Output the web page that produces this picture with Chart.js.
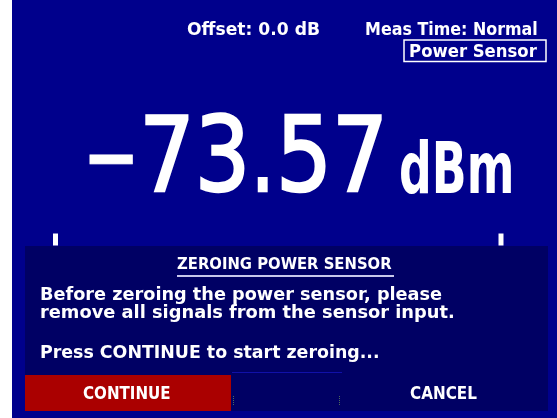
<!DOCTYPE html>
<html><head><meta charset="utf-8">
<script src="https://cdn.jsdelivr.net/npm/chart.js@4"></script>
<style>html,body{margin:0;padding:0;background:#fff;overflow:hidden}canvas{display:block}</style>
</head><body><canvas id="c" width="557" height="418"></canvas>
<script>
// ---- data ----
const headerTexts = ['Offset: 0.0 dB', 'Meas Time: Normal'];
const modeLabel = 'Power Sensor';
const reading = -73.57;
const unit = 'dBm';
const barLimits = [0, 100];           // bar-graph end markers (percent of range)
const dialogTitle = 'ZEROING POWER SENSOR';
const dialogLines = ['Before zeroing the power sensor, please',
                     'remove all signals from the sensor input.',
                     'Press CONTINUE to start zeroing...'];
const buttonLabels = ['CONTINUE', 'CANCEL'];

// ---- styles ----
const BG = '#00008C', DLG = '#000064', RED = '#AA0000', FG = '#FFFFFF';
const SMALL = 'bold {s}px "DejaVu Sans"';
const BIG = '{s}px "DejaVu Sans"';
const UNIT = 'bold {s}px "DejaVu Sans"';

function fitText(ctx, text, left, baseline, width, capH, font, extra) {
  ctx.font = font.replace('{s}', 100);
  const capR = ctx.measureText('H').actualBoundingBoxAscent / 100;
  const size = capH / capR;
  ctx.font = font.replace('{s}', size.toFixed(2));
  ctx.textAlign = 'left'; ctx.textBaseline = 'alphabetic';
  const m = ctx.measureText(text);
  const inkW = m.actualBoundingBoxLeft + m.actualBoundingBoxRight;
  const sx = width / inkW;
  ctx.save();
  ctx.translate(left, baseline);
  ctx.scale(sx, 1);
  ctx.fillText(text, m.actualBoundingBoxLeft, 0);
  if (extra) {
    ctx.strokeStyle = ctx.fillStyle; ctx.lineWidth = extra; ctx.lineJoin = 'miter';
    ctx.strokeText(text, m.actualBoundingBoxLeft, 0);
  }
  ctx.restore();
}

const screenPlugin = {
  id: 'screen',
  beforeDraw(chart) {
    const ctx = chart.ctx;
    ctx.save();
    ctx.fillStyle = '#FFFFFF'; ctx.fillRect(0, 0, 557, 418);
    ctx.fillStyle = BG; ctx.fillRect(12, 0, 545, 418);
    ctx.restore();
  },
  afterDraw(chart) {
    const ctx = chart.ctx;
    ctx.save();
    ctx.fillStyle = FG;
    // header
    fitText(ctx, headerTexts[0], 187, 35, 132, 12.5, SMALL);
    fitText(ctx, headerTexts[1], 366, 35, 171, 12.5, SMALL);
    ctx.strokeStyle = FG; ctx.lineWidth = 1.5;
    ctx.strokeRect(404, 40, 142, 21.5);
    fitText(ctx, modeLabel, 410, 57, 127, 13, SMALL);

    // big reading
    const s = reading.toFixed(2);
    const neg = s[0] === '-';
    const body = neg ? s.slice(1) : s;
    const [ip, fp] = body.split('.');
    if (neg) fitText(ctx, '\u2212', 90, 192, 43, 76, BIG, 1);
    fitText(ctx, ip, 146, 191, 98, 75, BIG, 2.5);
    fitText(ctx, '.', 258, 191, 9, 75, BIG, 2.5);
    fitText(ctx, fp, 282, 191, 99, 75, BIG, 2.5);
    fitText(ctx, unit, 401, 193, 110, 52, UNIT);

    // dialog
    ctx.fillStyle = DLG; ctx.fillRect(25, 246, 523, 165);
    ctx.fillStyle = RED; ctx.fillRect(25, 375, 206, 36);
    ctx.fillStyle = '#1010A8'; ctx.fillRect(232, 372, 110, 1);
    ctx.fillStyle = '#4E6A5A';
    for (const x of [233, 339]) for (let y = 396; y <= 404; y += 2) ctx.fillRect(x, y, 1, 1);

    ctx.fillStyle = FG;
    fitText(ctx, dialogTitle, 177, 269, 215, 11, SMALL);
    ctx.fillStyle = '#C8C8EC'; ctx.fillRect(177, 275, 217, 2);
    ctx.fillStyle = FG;
    fitText(ctx, dialogLines[0], 41, 300, 401, 13, SMALL);
    fitText(ctx, dialogLines[1], 41, 318, 412, 13, SMALL);
    fitText(ctx, dialogLines[2], 41, 358, 337, 12.5, SMALL);
    fitText(ctx, buttonLabels[0], 83, 399, 87, 12.5, SMALL);
    fitText(ctx, buttonLabels[1], 410, 399, 67, 12.5, SMALL);
    ctx.restore();
  }
};

new Chart(document.getElementById('c'), {
  type: 'scatter',
  data: {
    datasets: [{
      data: barLimits.map(v => ({ x: v, y: 0.5 })),
      pointStyle: 'line', pointRotation: 90, pointRadius: 6,
      pointBorderWidth: 5, pointBorderColor: FG, pointBackgroundColor: FG,
      clip: false
    }]
  },
  options: {
    responsive: false, animation: false, events: [],
    layout: { padding: { left: 55.5, right: 56, top: 234, bottom: 173 } },
    scales: {
      x: { display: false, min: barLimits[0], max: barLimits[1] },
      y: { display: false, min: 0, max: 1 }
    },
    plugins: { legend: { display: false }, tooltip: { enabled: false } }
  },
  plugins: [screenPlugin]
});
</script>
</body></html>
